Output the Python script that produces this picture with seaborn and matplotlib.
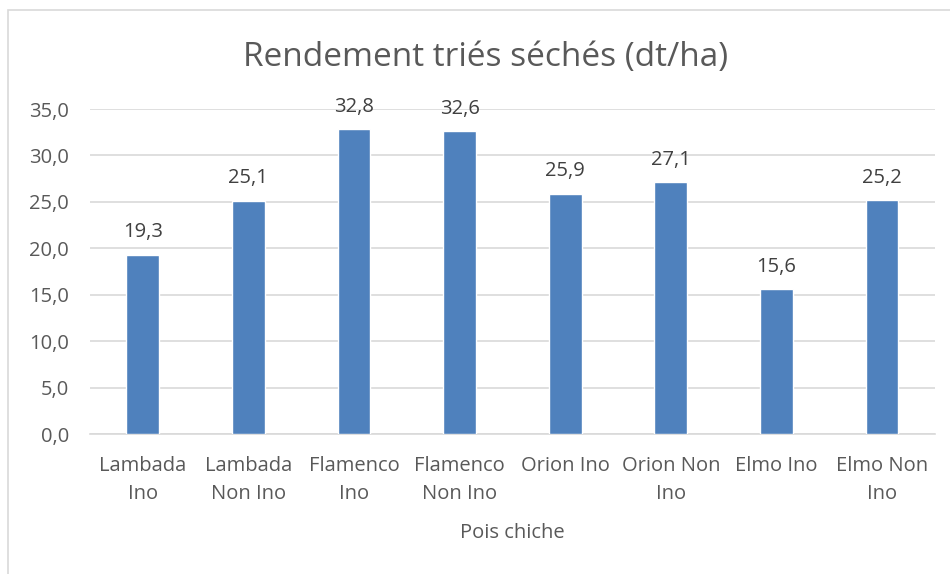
import pandas as pd
import matplotlib.pyplot as plt
import seaborn as sns
from matplotlib.patches import Rectangle

# Data
categories = ['Lambada\nIno', 'Lambada\nNon Ino', 'Flamenco\nIno', 'Flamenco\nNon Ino',
              'Orion Ino', 'Orion Non\nIno', 'Elmo Ino', 'Elmo Non\nIno']
rendement = [19.3, 25.1, 32.8, 32.6, 25.9, 27.1, 15.6, 25.2]
y_ticks = [0, 5, 10, 15, 20, 25, 30, 35]

df = pd.DataFrame({'variete': categories, 'rendement': rendement})

sns.set_style('white')
plt.rcParams['font.family'] = ['Open Sans', 'DejaVu Sans']

fig = plt.figure(figsize=(9.5, 5.74), dpi=100)
ax = fig.add_axes([0.0947, 0.2439, 0.8893, 0.5661])

sns.barplot(data=df, x='variete', y='rendement', color='#4F81BD', saturation=1,
            width=0.31, ax=ax, zorder=3)

ax.set_ylim(0, 35)
ax.set_yticks(y_ticks)
ax.set_yticklabels([f'{v:.1f}'.replace('.', ',') for v in y_ticks])
ax.grid(axis='y', color='#D9D9D9', linewidth=1.2, zorder=0)
ax.tick_params(axis='both', length=0, labelsize=14.5, colors='#595959')
ax.tick_params(axis='y', pad=15)
ax.tick_params(axis='x', pad=16)
for lbl in ax.get_xticklabels():
    lbl.set_linespacing(1.5)
for s in ['top', 'right', 'left']:
    ax.spines[s].set_visible(False)
ax.spines['bottom'].set_color('#D9D9D9')
ax.spines['bottom'].set_linewidth(1.2)

ax.bar_label(ax.containers[0], labels=[f'{v:.1f}'.replace('.', ',') for v in rendement],
             padding=9, fontsize=14.5, color='#404040')

ax.set_xlabel('Pois chiche', fontsize=14.5, color='#595959', labelpad=14)
ax.set_ylabel('')
fig.text(0.511, 0.9, 'Rendement triés séchés (dt/ha)', ha='center', va='center',
         fontsize=24, color='#595959')

# chart frame
fig.patches.append(Rectangle((8 / 950, -0.1), 1.2, 1 - 10 / 574 + 0.1,
                             transform=fig.transFigure, fill=False,
                             edgecolor='#D9D9D9', linewidth=1.2))

plt.savefig('out.png', dpi=100)
